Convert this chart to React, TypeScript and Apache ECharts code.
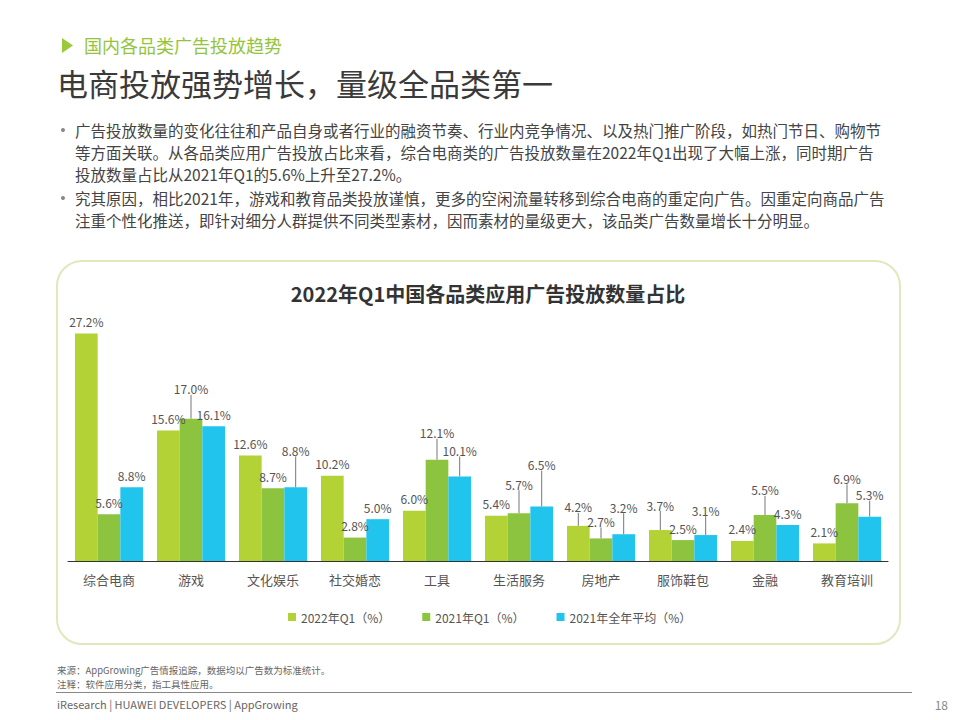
import React, { useEffect, useRef } from "react";
import * as echarts from "echarts";

const categories = ["综合电商", "游戏", "文化娱乐", "社交婚恋", "工具", "生活服务", "房地产", "服饰鞋包", "金融", "教育培训"];
const seriesNames = ["2022年Q1（%）", "2021年Q1（%）", "2021年全年平均（%）"];
const q1_2022 = [27.2, 15.6, 12.6, 10.2, 6.0, 5.4, 4.2, 3.7, 2.4, 2.1];
const q1_2021 = [5.6, 17.0, 8.7, 2.8, 12.1, 5.7, 2.7, 2.5, 5.5, 6.9];
const avg_2021 = [8.8, 16.1, 8.8, 5.0, 10.1, 6.5, 3.2, 3.1, 4.3, 5.3];

// label lift (px) used for leader-lined labels
const liftA = [0, 0, 0, 0, 0, 0, 7, 13, 0, 0];
const liftB = [0, 18, 0, 0, 15, 17, 5, 0, 13, 13];
const liftC = [0, 0, 25, 0, 14, 30, 15, 13, 0, 10];

const colors = ["#b2d235", "#8cc43f", "#21c4ec"];

const bulletLines = [
  "广告投放数量的变化往往和产品自身或者行业的融资节奏、行业内竞争情况、以及热门推广阶段，如热门节日、购物节",
  "等方面关联。从各品类应用广告投放占比来看，综合电商类的广告投放数量在2022年Q1出现了大幅上涨，同时期广告",
  "投放数量占比从2021年Q1的5.6%上升至27.2%。",
  "究其原因，相比2021年，游戏和教育品类投放谨慎，更多的空闲流量转移到综合电商的重定向广告。因重定向商品广告",
  "注重个性化推送，即针对细分人群提供不同类型素材，因而素材的量级更大，该品类广告数量增长十分明显。",
];
const bulletStarts = [true, false, false, true, false];

const FONT = '"Noto Sans CJK SC", "Noto Sans", sans-serif';

export default function App() {
  const ref = useRef<HTMLDivElement>(null);

  useEffect(() => {
    if (!ref.current) return;
    const chart = echarts.init(ref.current, undefined, { renderer: "svg" });

    const mkSeries = (idx: number, values: number[], lift: number[]) => ({
      name: seriesNames[idx],
      type: "bar",
      barGap: "0%",
      barCategoryGap: "17%",
      itemStyle: { color: colors[idx] },
      data: values.map((v, i) => ({ value: v, labelLine: { show: lift[i] > 0 } })),
      label: {
        show: true,
        position: "top",
        distance: 6,
        color: "#555",
        fontSize: 12,
        fontFamily: FONT,
        formatter: (p: any) => p.value.toFixed(1) + "%",
      },
      labelLine: { show: false, lineStyle: { color: "#777", width: 1 } },
      labelLayout: (p: any) => ({ dy: -lift[p.dataIndex] }),
    });

    const graphics: any[] = [
      {
        type: "polygon",
        shape: { points: [[62, 38], [62, 53], [73, 45.5]] },
        style: { fill: "#9cc93c" },
      },
      {
        type: "text",
        x: 84,
        y: 45,
        style: { text: "国内各品类广告投放趋势", fill: "#93c43c", fontSize: 18, fontFamily: FONT, verticalAlign: "middle" },
      },
      {
        type: "text",
        x: 57,
        y: 82,
        style: { text: "电商投放强势增长，量级全品类第一", fill: "#3a3a3a", fontSize: 31, fontFamily: FONT, verticalAlign: "middle" },
      },
      {
        type: "rect",
        shape: { x: 57, y: 261, width: 843, height: 383, r: 25 },
        style: { fill: "none", stroke: "#e0e8bc", lineWidth: 2 },
        z: -1,
      },
      {
        type: "text",
        x: 488,
        y: 293,
        style: {
          text: "2022年Q1中国各品类应用广告投放数量占比",
          fill: "#333",
          fontSize: 20,
          fontWeight: "bold",
          fontFamily: FONT,
          align: "center",
          verticalAlign: "middle",
        },
      },
      {
        type: "text",
        x: 57,
        y: 670,
        style: { text: "来源：AppGrowing广告情报追踪，数据均以广告数为标准统计。", fill: "#666", fontSize: 9.5, fontFamily: FONT, verticalAlign: "middle", lineHeight: 12 },
      },
      {
        type: "text",
        x: 57,
        y: 684,
        style: { text: "注释：软件应用分类，指工具性应用。", fill: "#666", fontSize: 9.5, fontFamily: FONT, verticalAlign: "middle", lineHeight: 12 },
      },
      {
        type: "line",
        shape: { x1: 56, y1: 692.5, x2: 912, y2: 692.5 },
        style: { stroke: "#888", lineWidth: 1 },
      },
      {
        type: "text",
        x: 57,
        y: 704,
        style: { text: "iResearch | HUAWEI DEVELOPERS | AppGrowing", fill: "#666", fontSize: 11, fontFamily: FONT, verticalAlign: "middle" },
      },
      {
        type: "text",
        x: 948,
        y: 704,
        style: { text: "18", fill: "#888", fontSize: 12, fontFamily: FONT, align: "right", verticalAlign: "middle" },
      },
    ];

    const lineYs = [130, 152, 174, 198, 220];
    bulletLines.forEach((t, i) => {
      if (bulletStarts[i]) {
        graphics.push({
          type: "circle",
          shape: { cx: 63, cy: lineYs[i], r: 2 },
          style: { fill: "#888" },
        });
      }
      graphics.push({
        type: "text",
        x: 75,
        y: lineYs[i],
        style: { text: t, fill: "#444", fontSize: 15.5, fontFamily: FONT, verticalAlign: "middle" },
      });
    });

    chart.setOption({
      animation: false,
      backgroundColor: "#fff",
      textStyle: { fontFamily: FONT },
      graphic: graphics,
      legend: {
        left: 283,
        top: 606,
        itemWidth: 8,
        itemHeight: 8,
        itemGap: 32,
        icon: "rect",
        textStyle: { color: "#555", fontSize: 12, fontFamily: FONT },
        data: seriesNames,
      },
      grid: { left: 68, right: 72, top: 310, bottom: 159 },
      xAxis: {
        type: "category",
        data: categories,
        axisLine: { lineStyle: { color: "#333", width: 1 } },
        axisTick: { show: false },
        axisLabel: { color: "#555", fontSize: 13, margin: 12, fontFamily: FONT },
      },
      yAxis: {
        type: "value",
        min: 0,
        max: 30,
        show: false,
        splitLine: { show: false },
      },
      series: [mkSeries(0, q1_2022, liftA), mkSeries(1, q1_2021, liftB), mkSeries(2, avg_2021, liftC)],
    });

    return () => chart.dispose();
  }, []);

  return <div ref={ref} style={{ position: "absolute", left: 0, top: 0, width: 960, height: 720 }} />;
}
